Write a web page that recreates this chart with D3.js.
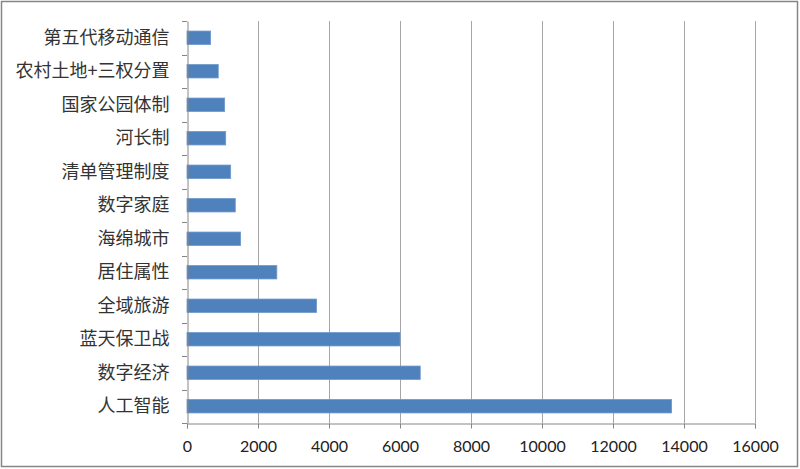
<!DOCTYPE html>
<html><head><meta charset="utf-8">
<script src="https://cdn.jsdelivr.net/npm/d3@7"></script>
<style>body{margin:0;background:#fff}svg{display:block}</style>
</head><body>
<script>
const categories = ["第五代移动通信","农村土地+三权分置","国家公园体制","河长制","清单管理制度","数字家庭","海绵城市","居住属性","全域旅游","蓝天保卫战","数字经济","人工智能"];
const values = [665, 880, 1060, 1090, 1230, 1360, 1510, 2530, 3650, 6000, 6570, 13650];
const xTicks = [0,2000,4000,6000,8000,10000,12000,14000,16000];

(function(){
const W=800,H=469;
const svg=d3.select("body").append("svg").attr("width",W).attr("height",H);
svg.append("rect").attr("x",1.5).attr("y",1.5).attr("width",796).attr("height",465)
  .attr("fill","#fff").attr("stroke","#868686").attr("stroke-width",1.5);

const pL=187,pR=755,pT=21,pB=423;
const x=d3.scaleLinear().domain([0,16000]).range([pL,pR]);
const y=d3.scaleBand().domain(categories).range([pT,pB]).paddingInner(0.6).paddingOuter(0.3);
const yb=d3.scaleBand().domain(categories).range([pT,pB]);

// gridlines
svg.append("g").selectAll("line").data(xTicks.slice(1)).join("line")
  .attr("x1",d=>Math.round(x(d))+0.5).attr("x2",d=>Math.round(x(d))+0.5)
  .attr("y1",pT).attr("y2",pB).attr("stroke","#a6a6a6").attr("stroke-width",1);

// bars
svg.append("g").selectAll("rect").data(categories).join("rect")
  .attr("x",x(0)).attr("y",d=>y(d)).attr("height",y.bandwidth())
  .attr("width",(d,i)=>x(values[i])-x(0))
  .attr("fill","#4f81bd").attr("stroke","#6d98cc").attr("stroke-width",0.8);

// x axis
const xa=svg.append("g").attr("transform",`translate(0,${pB+0.5})`)
  .call(d3.axisBottom(x).tickValues(xTicks).tickSize(5).tickPadding(12).tickFormat(d3.format("d")));
xa.selectAll("path,line").attr("stroke","#868686");
xa.selectAll("text").attr("font-family","Lato, 'Liberation Sans', sans-serif").attr("font-size",16).attr("fill","#222");

// y axis
const ya=svg.append("g").attr("transform",`translate(${pL+0.5},0)`)
  .call(d3.axisLeft(yb).tickSize(0).tickPadding(18));
ya.select("path").attr("stroke","#868686");
ya.selectAll("text").attr("font-family","'Noto Sans CJK SC', sans-serif").attr("font-size",18).attr("fill","#333");
// category boundary ticks
svg.append("g").selectAll("line").data(d3.range(categories.length+1)).join("line")
  .attr("x1",pL-5).attr("x2",pL)
  .attr("y1",i=>Math.round(pT+i*yb.step())+0.5).attr("y2",i=>Math.round(pT+i*yb.step())+0.5)
  .attr("stroke","#868686");
})();
</script>
</body></html>
